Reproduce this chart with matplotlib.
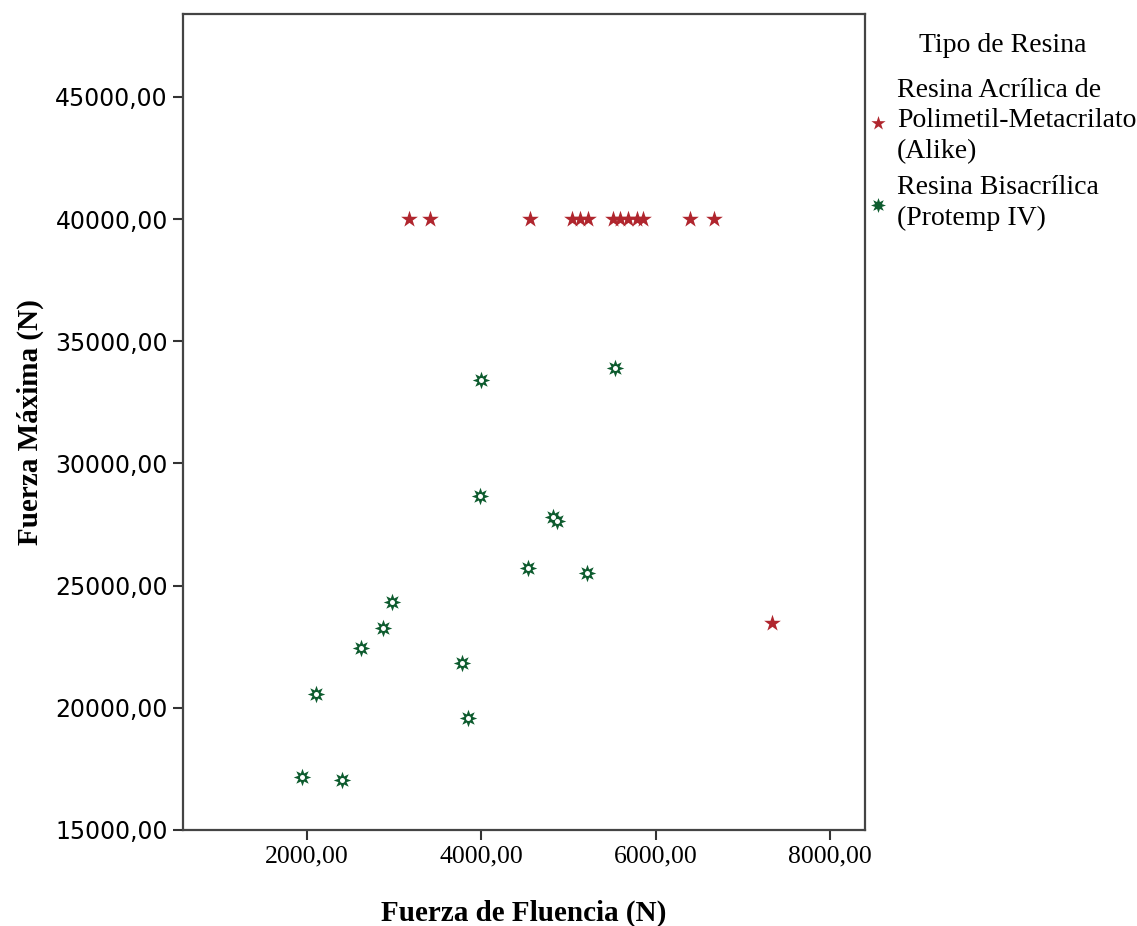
import matplotlib
matplotlib.use("Agg")
import matplotlib.pyplot as plt
from matplotlib.ticker import FuncFormatter

# Alike (red stars)
alike_x = [3170, 3411, 4557, 5036, 5131, 5226, 5506, 5590, 5685, 5781, 5857, 6392, 6667, 7333]
alike_y = [40000, 40000, 40000, 40000, 40000, 40000, 40000, 40000, 40000, 40000, 40000, 40000, 40000, 23470]

# Protemp IV (green gears)
protemp_x = [3995, 5532, 3984, 4818, 4870, 4531, 5207, 2971, 2868, 2616, 3781, 2100, 3843, 1946, 2405]
protemp_y = [33410, 33900, 28680, 27800, 27660, 25730, 25500, 24340, 23280, 22460, 21850, 20550, 19570, 17180, 17050]

x_ticks = [2000, 4000, 6000, 8000]
y_ticks = [15000, 20000, 25000, 30000, 35000, 40000, 45000]

legend_title = "Tipo de Resina"
labels = ["Resina Acrílica de\nPolimetil-Metacrilato\n(Alike)", "Resina Bisacrílica\n(Protemp IV)"]

red = "#b0262e"
green = "#0e5c2f"
serif = "Liberation Serif"

fig = plt.figure(figsize=(11.37, 9.26), dpi=100)
ax = fig.add_axes([0.161, 0.1037, 0.5998, 0.8812])

ax.scatter(alike_x, alike_y, marker="*", s=160, color=red, linewidths=0, label=labels[0], zorder=3)
ax.scatter(protemp_x, protemp_y, marker=(8, 1, 0), s=160, color=green, linewidths=0, label=labels[1], zorder=3)
# white hole in the middle of the gear marker
ax.scatter(protemp_x, protemp_y, marker="o", s=13, color="white", linewidths=0, zorder=4)

ax.set_xlim(577, 8402)
ax.set_ylim(15000, 48390)
ax.set_xticks(x_ticks)
ax.set_yticks(y_ticks)
fmt = FuncFormatter(lambda v, p: "{:.2f}".format(v).replace(".", ","))
ax.xaxis.set_major_formatter(fmt)
ax.yaxis.set_major_formatter(fmt)

for lab in ax.get_xticklabels():
    lab.set_fontfamily(serif)
    lab.set_fontsize(18.5)
for lab in ax.get_yticklabels():
    lab.set_fontfamily("DejaVu Sans")
    lab.set_fontsize(17)

ax.tick_params(direction="out", length=7, width=1.5, color="#333333", pad=4)
for sp in ax.spines.values():
    sp.set_color("#444444")
    sp.set_linewidth(1.6)

ax.set_xlabel("Fuerza de Fluencia (N)", fontfamily=serif, fontweight="bold", fontsize=21, labelpad=23)
ax.set_ylabel("Fuerza Máxima (N)", fontfamily=serif, fontweight="bold", fontsize=21, labelpad=8)

# legend title placed on its own, entries below it
fig.text(1003 / 1137, 1 - 46 / 926, legend_title, fontfamily=serif, fontsize=20,
         ha="center", va="center")
leg = ax.legend(loc="upper left", bbox_to_anchor=(1.0, 0.922), frameon=False,
                prop={"family": serif, "size": 20},
                handlelength=0.95, handletextpad=0.2, labelspacing=0.4,
                borderaxespad=0, borderpad=0, markerscale=0.85)
for t in leg.get_texts():
    t.set_linespacing(1.3)

fig.savefig("out.png", dpi=100, facecolor="white")
